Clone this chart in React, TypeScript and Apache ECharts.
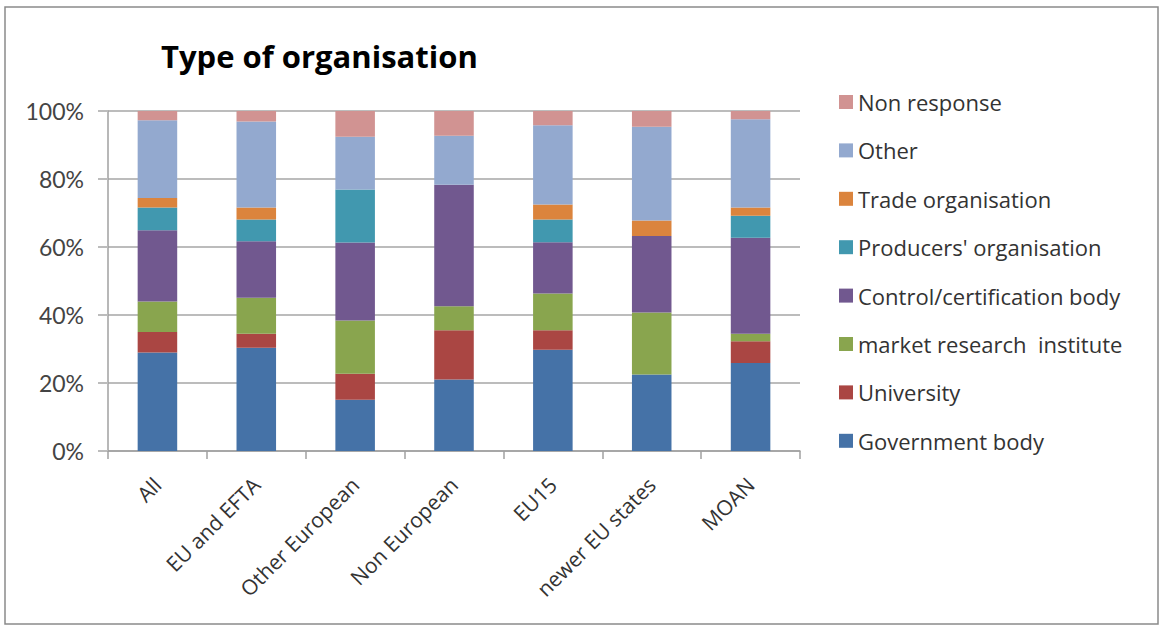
import React, { useEffect, useRef } from "react";
import * as echarts from "echarts";

const categories = ["All", "EU and EFTA", "Other European", "Non European", "EU15", "newer EU states", "MOAN"];
const governmentBody = [29.0, 30.4, 15.1, 21.0, 29.8, 22.5, 25.9];
const university = [6.0, 4.1, 7.6, 14.5, 5.7, 0, 6.4];
const marketResearch = [9.0, 10.6, 15.7, 7.1, 10.8, 18.2, 2.2];
const controlBody = [20.9, 16.6, 22.9, 35.7, 15.1, 22.5, 28.2];
const producersOrg = [6.7, 6.4, 15.6, 0, 6.7, 0, 6.5];
const tradeOrg = [2.8, 3.5, 0, 0, 4.4, 4.6, 2.4];
const other = [22.9, 25.3, 15.5, 14.4, 23.3, 27.6, 26.0];
const nonResponse = [2.7, 3.1, 7.6, 7.3, 4.2, 4.6, 2.4];

const seriesNames = [
  "Government body",
  "University",
  "market research  institute",
  "Control/certification body",
  "Producers' organisation",
  "Trade organisation",
  "Other",
  "Non response",
];
const seriesData = [governmentBody, university, marketResearch, controlBody, producersOrg, tradeOrg, other, nonResponse];
const colors = ["#4572A7", "#AA4643", "#89A54E", "#71588F", "#4198AF", "#DB843D", "#93A9CF", "#D19392"];
const yTicks = [0, 20, 40, 60, 80, 100];

export default function App() {
  const ref = useRef<HTMLDivElement>(null);
  useEffect(() => {
    if (!ref.current) return;
    const chart = echarts.init(ref.current, null, { renderer: "svg" });
    chart.setOption({
      animation: false,
      backgroundColor: "#ffffff",
      title: {
        text: "Type of organisation",
        left: 156,
        top: 35,
        textStyle: { fontFamily: "Open Sans", fontWeight: "bold", fontSize: 31, color: "#000" },
      },
      graphic: [
        {
          type: "rect",
          shape: { x: 5, y: 7, width: 1153, height: 617 },
          style: { fill: "none", stroke: "#8a8a8a", lineWidth: 1.5 },
          silent: true,
        },
      ],
      legend: {
        orient: "vertical",
        left: 834,
        top: 86,
        itemWidth: 14,
        itemHeight: 14,
        itemGap: 26.4,
        icon: "rect",
        data: seriesNames.slice().reverse(),
        textStyle: { fontFamily: "Open Sans", fontSize: 22, color: "#333", lineHeight: 20 },
      },
      grid: { left: 108, right: 362, top: 111, bottom: 177, containLabel: false },
      xAxis: {
        type: "category",
        data: categories,
        axisLine: { lineStyle: { color: "#a0a0a0", width: 1.5 } },
        axisTick: { show: true, length: 8, lineStyle: { color: "#a0a0a0", width: 1.5 } },
        axisLabel: {
          rotate: 45,
          fontFamily: "Open Sans",
          fontSize: 21,
          color: "#333",
          margin: 30,
          interval: 0,
        },
      },
      yAxis: {
        type: "value",
        min: 0,
        max: 100,
        interval: 20,
        axisLine: { show: true, lineStyle: { color: "#a0a0a0", width: 1.5 } },
        axisTick: { show: true, length: 10, lineStyle: { color: "#bcbcbc", width: 2 } },
        splitLine: { lineStyle: { color: "#bcbcbc", width: 2 } },
        axisLabel: {
          formatter: (v: number) => (yTicks.includes(v) ? v + "%" : ""),
          fontFamily: "Lato",
          fontSize: 23,
          color: "#444",
          margin: 24,
        },
      },
      series: seriesNames.map((name, i) => ({
        name,
        type: "bar",
        stack: "total",
        barWidth: "40%",
        data: seriesData[i],
        itemStyle: { color: colors[i] },
      })),
    });
    return () => chart.dispose();
  }, []);
  return <div ref={ref} style={{ position: "fixed", left: 0, top: 0, width: 1162, height: 628 }} />;
}
